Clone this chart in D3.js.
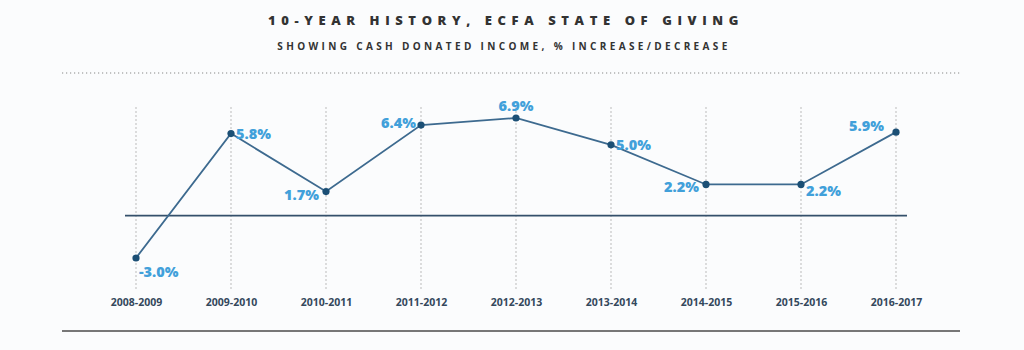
<!DOCTYPE html>
<html>
<head>
<meta charset="utf-8">
<script src="https://cdn.jsdelivr.net/npm/d3@7"></script>
<style>
  html, body { margin: 0; padding: 0; background: #fbfcfd; }
  svg { display: block; font-family: "Open Sans", sans-serif; }
</style>
</head>
<body>
<svg id="chart" width="1024" height="350"></svg>
<script>
// data
var years = ["2008-2009", "2009-2010", "2010-2011", "2011-2012", "2012-2013",
             "2013-2014", "2014-2015", "2015-2016", "2016-2017"];
var change = [-3.0, 5.8, 1.7, 6.4, 6.9, 5.0, 2.2, 2.2, 5.9];
// where each value label sits relative to its point
var labelSide = ["below-right", "right", "left-below", "left", "above",
                 "right", "left-below", "right-below", "left-above"];

var svg = d3.select("#chart"),
    width = 1024,
    height = 350;

var x = d3.scalePoint().domain(years).range([136, 896]);
var y = d3.scaleLinear().domain([-3.0, 6.9]).range([258, 118]);

// titles
svg.append("text")
    .attr("x", 506).attr("y", 25)
    .attr("text-anchor", "middle")
    .attr("font-size", 13).attr("font-weight", 800)
    .attr("letter-spacing", "5.6px")
    .attr("fill", "#333")
    .text("10-YEAR HISTORY, ECFA STATE OF GIVING");

svg.append("text")
    .attr("x", 504).attr("y", 50)
    .attr("text-anchor", "middle")
    .attr("font-size", 10).attr("font-weight", 700)
    .attr("letter-spacing", "3.35px")
    .attr("fill", "#333")
    .text("SHOWING CASH DONATED INCOME, % INCREASE/DECREASE");

// top dotted rule and bottom solid rule
svg.append("line")
    .attr("x1", 62).attr("x2", 960).attr("y1", 73).attr("y2", 73)
    .attr("stroke", "#888").attr("stroke-width", 1.2)
    .attr("stroke-dasharray", "1.2,2.8");

svg.append("line")
    .attr("x1", 62).attr("x2", 960).attr("y1", 331).attr("y2", 331)
    .attr("stroke", "#777").attr("stroke-width", 1.8);

// vertical dotted grid
svg.append("g").selectAll("line")
    .data(years)
    .enter().append("line")
    .attr("x1", function (d) { return x(d); })
    .attr("x2", function (d) { return x(d); })
    .attr("y1", 107).attr("y2", 290)
    .attr("stroke", "#bbb").attr("stroke-width", 1)
    .attr("stroke-dasharray", "2,2");

// zero line
svg.append("line")
    .attr("x1", 125).attr("x2", 907)
    .attr("y1", y(0)).attr("y2", y(0))
    .attr("stroke", "#34506b").attr("stroke-width", 1.8);

// x axis labels
var xAxis = d3.axisBottom(x).tickSize(0).tickPadding(0);
var ax = svg.append("g").attr("transform", "translate(0,299)").call(xAxis);
ax.select(".domain").remove();
ax.selectAll("text")
    .attr("font-family", "Open Sans, sans-serif")
    .attr("font-size", 10.5).attr("font-weight", 700)
    .attr("fill", "#34485c");

// the line
var points = years.map(function (d, i) { return { year: d, v: change[i], side: labelSide[i] }; });

var line = d3.line()
    .x(function (d) { return x(d.year); })
    .y(function (d) { return y(d.v); });

svg.append("path")
    .datum(points)
    .attr("d", line)
    .attr("fill", "none")
    .attr("stroke", "#3d6a8f")
    .attr("stroke-width", 1.8);

svg.append("g").selectAll("circle")
    .data(points)
    .enter().append("circle")
    .attr("cx", function (d) { return x(d.year); })
    .attr("cy", function (d) { return y(d.v); })
    .attr("r", 3.6)
    .attr("fill", "#1b4f75");

// value labels
var offsets = {
    "right":       { dx: 5,  dy: 5,   anchor: "start" },
    "left":        { dx: -5, dy: 3,   anchor: "end" },
    "above":       { dx: 0,  dy: -7,  anchor: "middle" },
    "left-below":  { dx: -7, dy: 8,   anchor: "end" },
    "right-below": { dx: 5,  dy: 12,  anchor: "start" },
    "left-above":  { dx: -12, dy: -1, anchor: "end" },
    "below-right": { dx: 3,  dy: 19,  anchor: "start" }
};

svg.append("g").selectAll("text")
    .data(points)
    .enter().append("text")
    .attr("x", function (d) { return x(d.year) + offsets[d.side].dx; })
    .attr("y", function (d) { return y(d.v) + offsets[d.side].dy; })
    .attr("text-anchor", function (d) { return offsets[d.side].anchor; })
    .attr("font-size", 14.5).attr("font-weight", 800)
    .attr("fill", "#41a0da")
    .text(function (d) { return d.v.toFixed(1) + "%"; });
</script>
</body>
</html>
